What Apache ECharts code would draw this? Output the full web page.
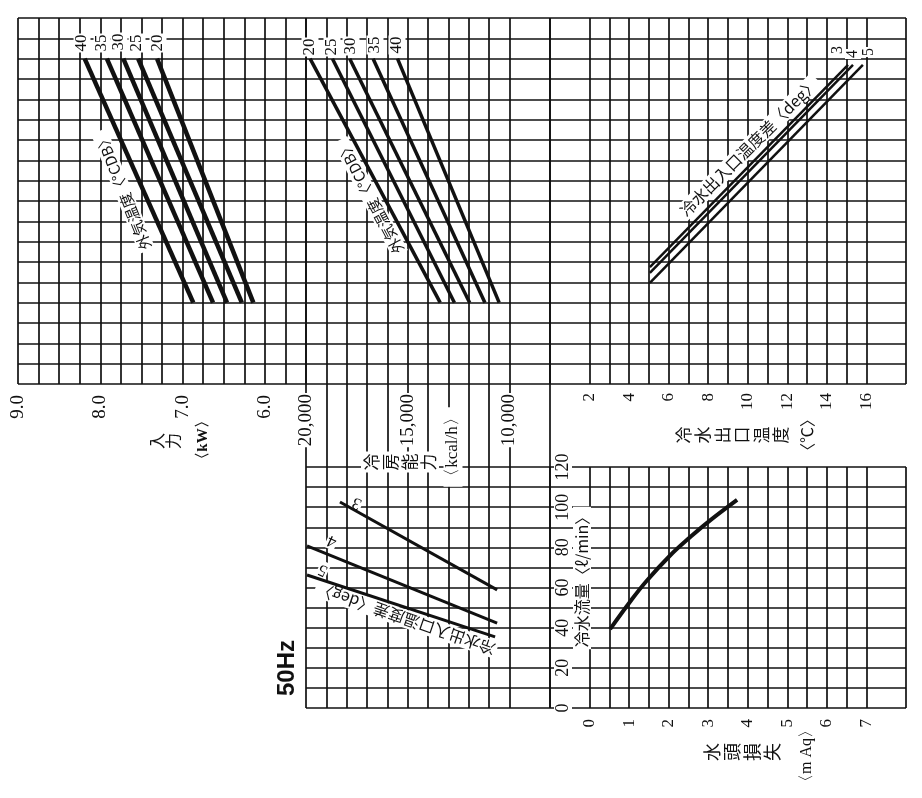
<!DOCTYPE html>
<html><head><meta charset="utf-8">
<script src="https://cdn.jsdelivr.net/npm/echarts@6/dist/echarts.min.js"></script>
<style>html,body{margin:0;padding:0;background:#fff}#c{width:922px;height:798px}</style>
</head><body><div id="c"></div>
<script>
// ---------------- data ----------------
// upper-left: input power (kW) for outdoor temperatures, hidden row scale 0..18
const outdoorTempsInput = ['40', '35', '30', '25', '20'];
const inputKwTop = [8.19, 7.92, 7.72, 7.54, 7.31];
const inputKwBottom = [6.87, 6.63, 6.46, 6.28, 6.14];
const rowTop = 16;
const rowBottom = 4;
// upper-middle: cooling capacity (kcal/h)
const outdoorTempsCap = ['20', '25', '30', '35', '40'];
const capKcalTop = [19800, 18700, 17850, 16700, 15500];
const capKcalBottom = [13400, 12700, 11950, 11200, 10500];
// upper-right: chilled water outlet temperature (°C) for delta T
const deltaT = ['3', '4', '5'];
const outletStartC = [5.05, 5.05, 5.05];
const outletStartRow = [5.75, 5.46, 4.97];
const outletEndC = [15.07, 15.32, 15.82];
const outletEndRow = [15.69, 15.69, 15.69];
// lower-middle: capacity (kcal/h) vs chilled water flow (l/min)
const flowCapStart = [18330, 19950, 19950];
const flowAtStart = [102.6, 80.7, 66.2];
const flowCapEnd = [10600, 10600, 10700];
const flowAtEnd = [58.8, 42.3, 35.4];
// lower-right: head loss (mAq) vs flow (l/min)
const headLoss = [0.52, 1.02, 1.43, 2.03, 2.54, 2.97, 3.73];
const headFlow = [39.3, 52.8, 63.0, 75.8, 85.0, 92.2, 103.6];
// tick labels
const kwTickLabels = [6, 7, 8, 9];
const kcalTickLabels = [10000, 15000, 20000];
const outletTickLabels = [2, 4, 6, 8, 10, 12, 14, 16];
const headTickLabels = [0, 1, 2, 3, 4, 5, 6, 7];
const flowTickLabels = [0, 20, 40, 60, 80, 100, 120];

// ---------------- styling helpers ----------------
const INK = '#111';
const CLEAR = 'rgba(0,0,0,0)';
const SERIF = '"Liberation Serif","DejaVu Serif",serif';
const CJK = '"Noto Sans CJK JP","Noto Sans",sans-serif';
function lineColors(n, hidden) {
  const a = [];
  for (let i = 0; i < n; i++) a.push(hidden.indexOf(i) >= 0 ? CLEAR : INK);
  return a;
}
function near(v, list) { return list.some(t => Math.abs(t - v) < 1e-6); }
function xAx(grid, min, max, interval, inverse, hidden, label) {
  const n = Math.round((max - min) / interval) + 1;
  return {
    type: 'value', gridIndex: grid, min, max, interval, inverse, position: 'bottom',
    axisLine: { show: false }, axisTick: { show: false },
    axisLabel: label || { show: false },
    splitLine: { show: true, lineStyle: { color: hidden ? lineColors(n, hidden) : INK, width: 1.7 } }
  };
}
function yAx(grid, min, max, interval, label) {
  return {
    type: 'value', gridIndex: grid, min, max, interval, position: 'left',
    axisLine: { show: false }, axisTick: { show: false },
    axisLabel: label || { show: false },
    splitLine: { show: true, lineStyle: { color: INK, width: 1.7 } }
  };
}
const G = (left, top, width, height) => ({ left, top, width, height, containLabel: false, outerBoundsMode: 'none' });

const grids = [
  G(18, 18, 288, 366),   // 0 input kW
  G(306, 18, 244, 366),  // 1 capacity
  G(550, 18, 356, 366),  // 2 outlet temp
  G(306, 384, 244, 83),  // 3 capacity label zone
  G(306, 467, 244, 241), // 4 capacity vs flow
  G(550, 467, 356, 241)  // 5 head loss vs flow
];

const xAxes = [
  xAx(0, 5.5, 9, 0.25, true, null, {
    show: true, rotate: 90, margin: 11, fontSize: 19, fontFamily: SERIF, color: INK,
    formatter: v => near(v, kwTickLabels) ? v.toFixed(1) : ''
  }),
  xAx(1, 8000, 20000, 1000, true, [1], {
    show: true, rotate: 90, margin: 9, fontSize: 19, fontFamily: SERIF, color: INK,
    backgroundColor: '#fff', padding: [0, 1],
    formatter: v => near(v, kcalTickLabels) ? v.toLocaleString('en-US') : ''
  }),
  xAx(2, 0, 18, 1, false, [1, 17], {
    show: true, rotate: 90, margin: 9, fontSize: 17, fontFamily: SERIF, color: INK,
    formatter: v => near(v, outletTickLabels) ? String(v) : ''
  }),
  xAx(3, 8000, 20000, 1000, true, [1]),
  xAx(4, 8000, 20000, 1000, true, [1]),
  xAx(5, -1, 8, 0.5, false, [1, 17], {
    show: true, rotate: 90, margin: 11, fontSize: 17, fontFamily: SERIF, color: INK,
    formatter: v => near(v, headTickLabels) ? String(v) : ''
  })
];
const yAxes = [
  yAx(0, 0, 18, 1), yAx(1, 0, 18, 1), yAx(2, 0, 18, 1),
  { type: 'value', gridIndex: 3, min: 0, max: 1, show: false },
  yAx(4, 0, 120, 10),
  yAx(5, 0, 120, 10, {
    show: true, inside: true, rotate: 90, margin: 4, fontSize: 18, fontFamily: SERIF, color: INK,
    backgroundColor: '#fff', padding: [0, 1],
    formatter: v => near(v, flowTickLabels) ? String(v) : ''
  })
];

const series = [];
function addLine(xi, data, width, smooth) {
  series.push({
    type: 'line', xAxisIndex: xi, yAxisIndex: xi, data, symbol: 'none', smooth: smooth || false,
    lineStyle: { color: INK, width }, silent: true, animation: false
  });
}
outdoorTempsInput.forEach((t, i) => addLine(0, [[inputKwTop[i], rowTop], [inputKwBottom[i], rowBottom]], 4.5));
outdoorTempsCap.forEach((t, i) => addLine(1, [[capKcalTop[i], rowTop], [capKcalBottom[i], rowBottom]], 3.5));
deltaT.forEach((t, i) => addLine(2, [[outletStartC[i], outletStartRow[i]], [outletEndC[i], outletEndRow[i]]], 2.5));
deltaT.forEach((t, i) => addLine(4, [[flowCapStart[i], flowAtStart[i]], [flowCapEnd[i], flowAtEnd[i]]], 3));
addLine(5, headLoss.map((h, i) => [h, headFlow[i]]), 4, 0.4);

function txt(text, x, y, rotDeg, size, family, extra) {
  return {
    type: 'text', x, y, rotation: rotDeg * Math.PI / 180, z: 1, silent: true,
    style: Object.assign({
      text, fill: INK, fontSize: size, fontFamily: family, align: 'center', verticalAlign: 'middle',
      backgroundColor: '#fff', padding: [1, 2]
    }, extra || {})
  };
}
const graphics = [];
const tlPos = [[82, 43], [102, 43], [119, 42], [137, 43], [158, 43]];
outdoorTempsInput.forEach((t, i) => graphics.push(txt(t, tlPos[i][0], tlPos[i][1], 90, 17, SERIF, { padding: [0, 1] })));
const tmPos = [[310, 47], [332, 47], [351, 46], [375, 45], [397, 45]];
outdoorTempsCap.forEach((t, i) => graphics.push(txt(t, tmPos[i][0], tmPos[i][1], 90, 17, SERIF, { padding: [0, 1] })));
const trPos = [[838, 50], [853, 54], [869, 52]];
deltaT.forEach((t, i) => graphics.push(txt(t, trPos[i][0], trPos[i][1], 90, 16, SERIF, { padding: [0, 1] })));
const lmPos = [[357, 503], [332, 541], [323, 570]];
deltaT.forEach((t, i) => graphics.push(txt(t, lmPos[i][0], lmPos[i][1], 155, 17, SERIF, { padding: [0, 1] })));

graphics.push(txt('外気温度〈°CDB〉', 123, 191, 112, 15, CJK));
graphics.push(txt('外気温度〈°CDB〉', 370, 197, 118, 15, CJK));
graphics.push(txt('冷水出入口温度差〈deg〉', 749, 147, 45, 16, CJK));
graphics.push(txt('冷水出入口温度差〈deg〉', 406, 619, 161, 16, CJK));

graphics.push(txt('入\n力', 165, 441, 90, 16, CJK, { lineHeight: 16 }));
graphics.push(txt('〈kW〉', 203, 440, 90, 15, SERIF, { fontWeight: 'bold' }));
graphics.push(txt('冷\n房\n能\n力', 400, 462, 90, 17, CJK, { lineHeight: 19 }));
graphics.push(txt('〈kcal/h〉', 453, 447, 90, 17, SERIF));
graphics.push(txt('冷\n水\n出\n口\n温\n度', 732, 435, 90, 17, CJK, { lineHeight: 19.5 }));
graphics.push(txt('〈℃〉', 807, 435, 90, 16, CJK));
graphics.push(txt('冷水流量〈ℓ/min〉', 582, 578, 90, 16, CJK));
graphics.push(txt('水\n頭\n損\n失', 742, 752, 90, 18, CJK, { lineHeight: 20 }));
graphics.push(txt('〈m Aq〉', 807, 756, 90, 16, SERIF));
graphics.push(txt('50Hz', 287, 668, 90, 24, '"Liberation Sans","DejaVu Sans",sans-serif', { fontWeight: 'bold' }));

const chart = echarts.init(document.getElementById('c'), null, { renderer: 'canvas' });
chart.setOption({
  animation: false,
  backgroundColor: '#fff',
  grid: grids,
  xAxis: xAxes,
  yAxis: yAxes,
  series,
  graphic: { elements: graphics }
});
</script>
</body></html>
